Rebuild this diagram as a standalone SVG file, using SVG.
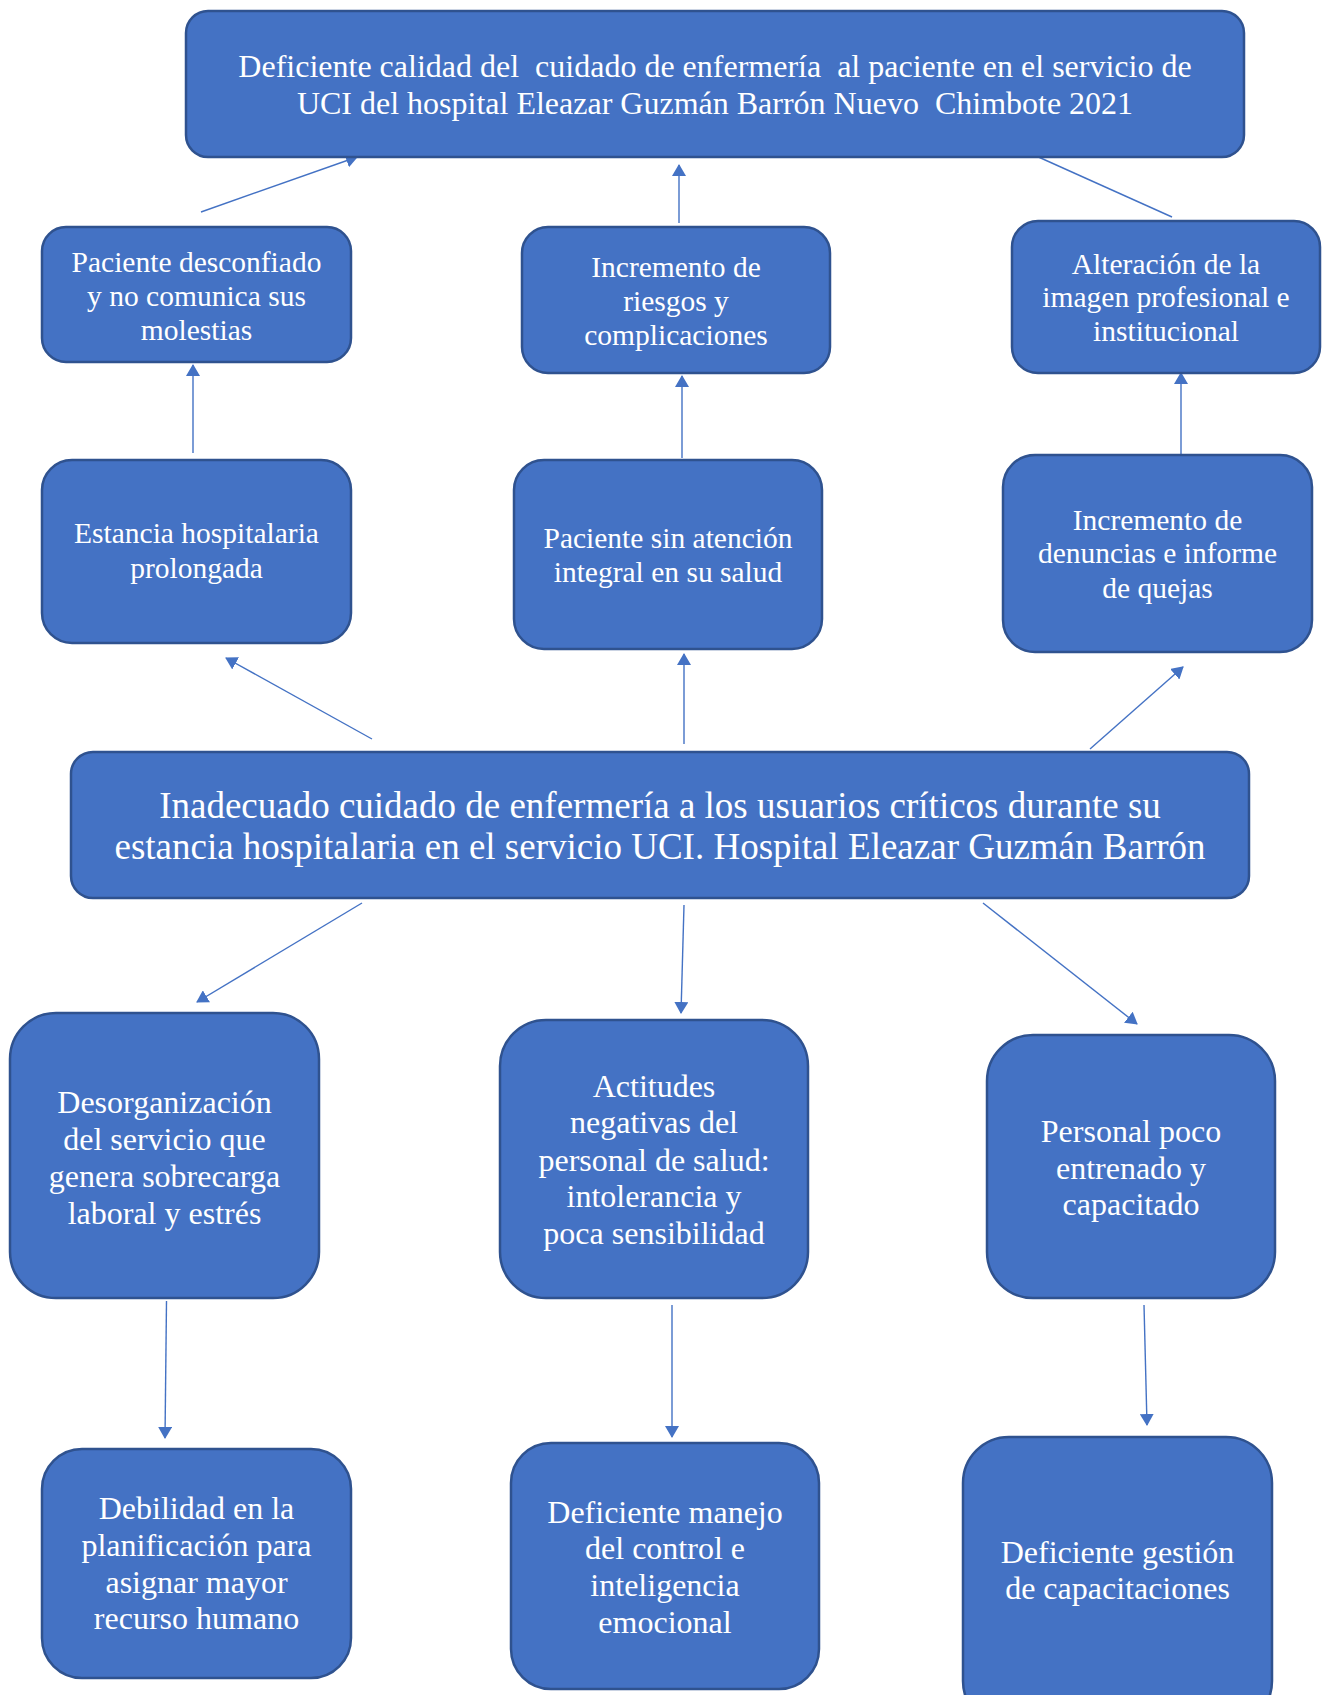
<svg xmlns="http://www.w3.org/2000/svg" width="1328" height="1695" viewBox="0 0 1328 1695">
<defs>
<style>
.box{fill:#4472C4;stroke:#2F528F;stroke-width:2.5}
.t{fill:#ffffff;font-family:"Liberation Serif","Times New Roman",serif;text-anchor:middle;white-space:pre}
.s29{font-size:29.5px}
.s32{font-size:32px}
.s37{font-size:37px}
.c{stroke:#4472C4;stroke-width:1.4;fill:none}
</style>
<marker id="ah" viewBox="0 0 12 14" refX="11" refY="7" markerWidth="12" markerHeight="14" markerUnits="userSpaceOnUse" orient="auto">
<path d="M0,0 L12,7 L0,14 Z" fill="#4472C4"/>
</marker>
</defs>
<rect width="1328" height="1695" fill="#ffffff"/>
<g id="connectors">
<line class="c" x1="201" y1="212" x2="357" y2="157" marker-end="url(#ah)"/>
<line class="c" x1="679" y1="223" x2="679" y2="165" marker-end="url(#ah)"/>
<line class="c" x1="1172" y1="217" x2="1034" y2="155"/>
<line class="c" x1="193" y1="453" x2="193" y2="365" marker-end="url(#ah)"/>
<line class="c" x1="682" y1="458" x2="682" y2="376" marker-end="url(#ah)"/>
<line class="c" x1="1181" y1="454" x2="1181" y2="373" marker-end="url(#ah)"/>
<line class="c" x1="372" y1="739" x2="226" y2="658" marker-end="url(#ah)"/>
<line class="c" x1="684" y1="744" x2="684" y2="654" marker-end="url(#ah)"/>
<line class="c" x1="1090" y1="749" x2="1183" y2="667" marker-end="url(#ah)"/>
<line class="c" x1="362" y1="903" x2="197" y2="1002" marker-end="url(#ah)"/>
<line class="c" x1="684" y1="905" x2="681" y2="1013" marker-end="url(#ah)"/>
<line class="c" x1="983" y1="903" x2="1137" y2="1024" marker-end="url(#ah)"/>
<line class="c" x1="166.5" y1="1301" x2="165" y2="1438" marker-end="url(#ah)"/>
<line class="c" x1="672" y1="1305" x2="672" y2="1437" marker-end="url(#ah)"/>
<line class="c" x1="1144" y1="1305" x2="1147" y2="1425" marker-end="url(#ah)"/>
</g>
<g id="n-top">
<rect class="box" x="186" y="11" width="1058" height="146" rx="22"/>
<text class="t s32" xml:space="preserve"><tspan x="715" y="77">Deficiente calidad del  cuidado de enfermería  al paciente en el servicio de</tspan><tspan x="715" y="114">UCI del hospital Eleazar Guzmán Barrón Nuevo  Chimbote 2021</tspan></text>
</g>
<g id="n-desconfiado">
<rect class="box" x="42" y="227" width="309" height="135" rx="24"/>
<text class="t s29"><tspan x="196.5" y="272">Paciente desconfiado</tspan><tspan x="196.5" y="306">y no comunica sus</tspan><tspan x="196.5" y="340">molestias</tspan></text>
</g>
<g id="n-riesgos">
<rect class="box" x="522" y="227" width="308" height="146" rx="26"/>
<text class="t s29"><tspan x="676" y="277">Incremento de</tspan><tspan x="676" y="311">riesgos y</tspan><tspan x="676" y="345">complicaciones</tspan></text>
</g>
<g id="n-imagen">
<rect class="box" x="1012" y="221" width="308" height="152" rx="26"/>
<text class="t s29"><tspan x="1166" y="274">Alteración de la</tspan><tspan x="1166" y="307">imagen profesional e</tspan><tspan x="1166" y="341">institucional</tspan></text>
</g>
<g id="n-estancia">
<rect class="box" x="42" y="460" width="309" height="183" rx="30"/>
<text class="t s29"><tspan x="196.5" y="543">Estancia hospitalaria</tspan><tspan x="196.5" y="578">prolongada</tspan></text>
</g>
<g id="n-atencion">
<rect class="box" x="514" y="460" width="308" height="189" rx="30"/>
<text class="t s29"><tspan x="668" y="548">Paciente sin atención</tspan><tspan x="668" y="582">integral en su salud</tspan></text>
</g>
<g id="n-denuncias">
<rect class="box" x="1003" y="455" width="309" height="197" rx="32"/>
<text class="t s29"><tspan x="1157.5" y="530">Incremento de</tspan><tspan x="1157.5" y="563">denuncias e informe</tspan><tspan x="1157.5" y="598">de quejas</tspan></text>
</g>
<g id="n-central">
<rect class="box" x="71" y="752" width="1178" height="146" rx="22"/>
<text class="t s37"><tspan x="660" y="818">Inadecuado cuidado de enfermería a los usuarios críticos durante su</tspan><tspan x="660" y="859">estancia hospitalaria en el servicio UCI. Hospital Eleazar Guzmán Barrón</tspan></text>
</g>
<g id="n-desorganizacion">
<rect class="box" x="10" y="1013" width="309" height="285" rx="46"/>
<text class="t s32"><tspan x="164.5" y="1113">Desorganización</tspan><tspan x="164.5" y="1150">del servicio que</tspan><tspan x="164.5" y="1187">genera sobrecarga</tspan><tspan x="164.5" y="1224">laboral y estrés</tspan></text>
</g>
<g id="n-actitudes">
<rect class="box" x="500" y="1020" width="308" height="278" rx="46"/>
<text class="t s32"><tspan x="654" y="1097">Actitudes</tspan><tspan x="654" y="1133">negativas del</tspan><tspan x="654" y="1171">personal de salud:</tspan><tspan x="654" y="1207">intolerancia y</tspan><tspan x="654" y="1244">poca sensibilidad</tspan></text>
</g>
<g id="n-personal">
<rect class="box" x="987" y="1035" width="288" height="263" rx="46"/>
<text class="t s32"><tspan x="1131" y="1142">Personal poco</tspan><tspan x="1131" y="1179">entrenado y</tspan><tspan x="1131" y="1215">capacitado</tspan></text>
</g>
<g id="n-debilidad">
<rect class="box" x="42" y="1449" width="309" height="229" rx="40"/>
<text class="t s32"><tspan x="196.5" y="1519">Debilidad en la</tspan><tspan x="196.5" y="1556">planificación para</tspan><tspan x="196.5" y="1593">asignar mayor</tspan><tspan x="196.5" y="1629">recurso humano</tspan></text>
</g>
<g id="n-emocional">
<rect class="box" x="511" y="1443" width="308" height="246" rx="40"/>
<text class="t s32"><tspan x="665" y="1523">Deficiente manejo</tspan><tspan x="665" y="1559">del control e</tspan><tspan x="665" y="1596">inteligencia</tspan><tspan x="665" y="1633">emocional</tspan></text>
</g>
<g id="n-capacitaciones">
<rect class="box" x="963" y="1437" width="309" height="290" rx="46"/>
<text class="t s32"><tspan x="1117.5" y="1563">Deficiente gestión</tspan><tspan x="1117.5" y="1599">de capacitaciones</tspan></text>
</g>
</svg>
